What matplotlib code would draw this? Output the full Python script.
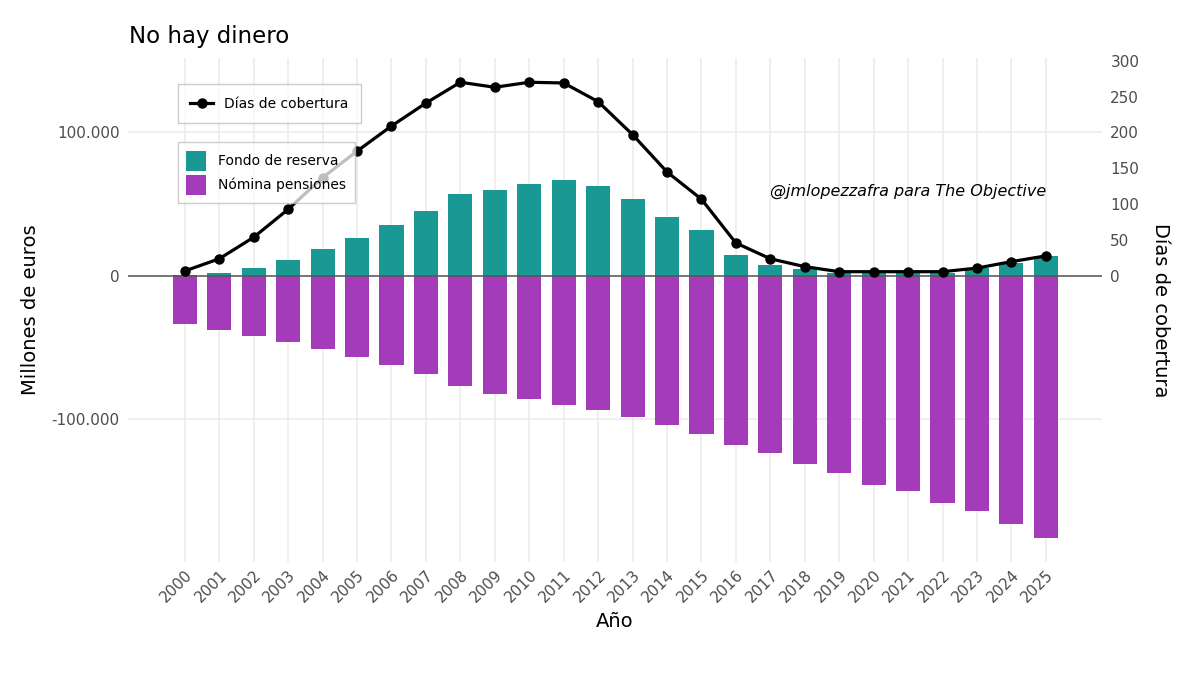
import numpy as np
import matplotlib
matplotlib.use("Agg")
import matplotlib.pyplot as plt
from matplotlib.ticker import FuncFormatter

# Datos (millones de euros y días de cobertura)
anios = list(range(2000, 2026))
fondo_reserva = [600, 2000, 5600, 11100, 18800, 26500, 35500, 45300, 57100, 59900,
                 64100, 66900, 62700, 53700, 41100, 32100, 14600, 7700, 5000, 2150,
                 2100, 2100, 2100, 5600, 9000, 13900]
nomina_pensiones = [-33400, -37600, -41800, -46000, -50900, -56400, -62000, -68300, -76700, -82200,
                    -85700, -89900, -93400, -98300, -103700, -110100, -117900, -123400, -131000, -137400,
                    -145300, -149800, -158100, -163900, -172700, -182300]
dias_cobertura = [7, 24, 54, 93, 137, 174, 209, 241, 270, 263,
                  270, 269, 243, 197, 145, 107, 46, 24, 13, 6,
                  6, 6, 6, 11, 20, 28]

escala = 500  # 1 día = 500 millones en el eje principal

color_fondo = "#1a9893"
color_nomina = "#a43bb8"

fig = plt.figure(figsize=(12, 6.75), dpi=100)
ax = fig.add_axes([128 / 1200, 1 - 562 / 675, 974 / 1200, 504 / 675])

# Barras
b1 = ax.bar(anios, fondo_reserva, width=0.7, color=color_fondo, label="Fondo de reserva", zorder=2)
b2 = ax.bar(anios, nomina_pensiones, width=0.7, color=color_nomina, label="Nómina pensiones", zorder=2)

ax.axhline(0, color="#555555", linewidth=1.1, zorder=3)

# Línea de días de cobertura
l1, = ax.plot(anios, np.array(dias_cobertura) * escala, color="black", linewidth=2.3,
              marker="o", markersize=6.5, label="Días de cobertura", zorder=4)

ax.set_xlim(2000 - 1.65, 2025 + 1.63)
ax.set_ylim(-199300, 151900)

ax.set_xticks(anios)
ax.set_xticklabels([str(a) for a in anios], rotation=45, ha="right", va="top",
                   rotation_mode="anchor", fontsize=11, color="#4d4d4d")
ax.set_yticks([-100000, 0, 100000])
ax.yaxis.set_major_formatter(FuncFormatter(lambda v, p: f"{int(v):,}".replace(",", ".")))
ax.tick_params(axis="y", labelsize=11, labelcolor="#4d4d4d", length=0, pad=6)
ax.tick_params(axis="x", length=0, pad=4)

ax.grid(True, color="#ebebeb", linewidth=1.1, zorder=0)
ax.set_axisbelow(True)
for s in ax.spines.values():
    s.set_visible(False)

# Eje secundario
sec = ax.secondary_yaxis("right", functions=(lambda y: y / escala, lambda d: d * escala))
sec.set_yticks([0, 50, 100, 150, 200, 250, 300])
sec.tick_params(labelsize=11, labelcolor="#4d4d4d", length=0, pad=6)
for s in sec.spines.values():
    s.set_visible(False)
sec.set_ylabel("Días de cobertura", fontsize=14, rotation=-90, labelpad=22)

ax.set_xlabel("Año", fontsize=14, labelpad=5)
ax.set_ylabel("Millones de euros", fontsize=14, labelpad=8)

fig.text(129 / 1200, 1 - 37 / 675, "No hay dinero", fontsize=16.5, va="center", ha="left")

ax.text(2025, 59200, "@jmlopezzafra para The Objective", fontsize=11.5, style="italic",
        ha="right", va="center", zorder=5)

# Leyendas
leg1 = ax.legend(handles=[l1], loc="upper left", bbox_to_anchor=(0.0513, 0.948),
                 borderaxespad=0, fontsize=10, frameon=True, fancybox=False,
                 edgecolor="#bbbbbb", framealpha=0.75, handlelength=1.6, borderpad=0.9)
ax.add_artist(leg1)
ax.legend(handles=[b1, b2], loc="upper left", bbox_to_anchor=(0.0513, 0.833),
          borderaxespad=0, fontsize=10, frameon=True, fancybox=False,
          edgecolor="#bbbbbb", framealpha=0.75, handlelength=1.4, handleheight=1.9,
          labelspacing=0.25, borderpad=0.6, handletextpad=0.9)

plt.savefig("out.png", dpi=100)
